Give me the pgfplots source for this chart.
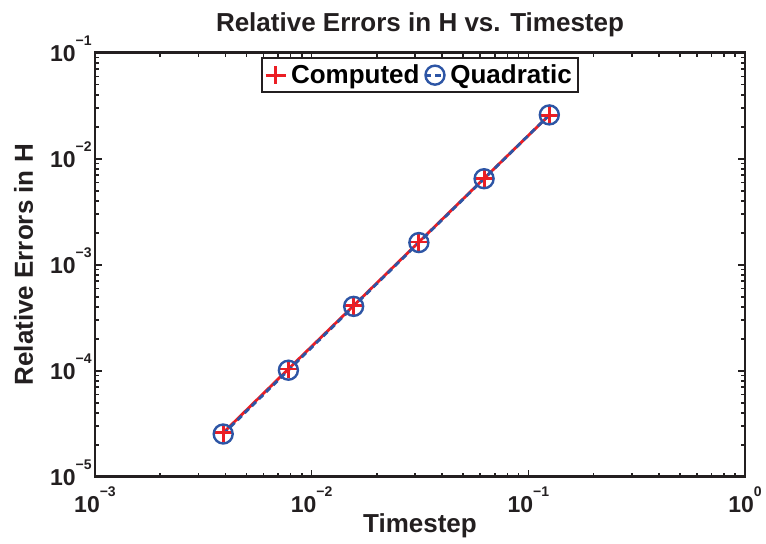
\documentclass[border=0pt]{standalone}
\usepackage{fontspec}
\setmainfont{Liberation Sans}
\usepackage{pgfplots}
\pgfplotsset{compat=1.18}
\definecolor{cred}{RGB}{235,30,36}
\definecolor{cblue}{RGB}{45,85,165}
\definecolor{axgray}{RGB}{35,31,32}
\newcommand{\expten}[1]{\pgfmathparse{int(round(#1/2.302585093))}\edef\myexp{\pgfmathresult}10\raisebox{8pt}{\fontsize{7}{7}\selectfont\ifnum\myexp<0 −\the\numexpr-\myexp\relax\else\myexp\fi}}
\pgfplotstableread{
x y
0.00390625 2.60e-5
0.0078125 1.04e-4
0.015625 4.12e-4
0.03125 1.64e-3
0.0625 6.53e-3
0.125 2.58e-2
}\computed
\pgfplotstableread{
x y
0.00390625 2.533e-5
0.0078125 1.013e-4
0.015625 4.053e-4
0.03125 1.621e-3
0.0625 6.484e-3
0.125 2.594e-2
}\quadratic
\begin{document}
\begin{tikzpicture}
\path[use as bounding box] (-47.5pt,-33.5pt) rectangle (335.5pt,238.4pt);
\begin{axis}[
 at={(0,0)}, anchor=south west,
 scale only axis, width=325pt, height=212pt,
 xmode=log, ymode=log,
 xmin=1e-3, xmax=1, ymin=1e-5, ymax=1e-1,
 xtick={1e-3,1e-2,1e-1,1}, ytick={1e-5,1e-4,1e-3,1e-2,1e-1},
 xticklabel={\expten{\tick}},
 yticklabel={\expten{\tick}},
 tick label style={font=\fontsize{11.5}{13}\selectfont\bfseries, text=axgray},
 xticklabel style={anchor=base, yshift=-18pt},
 yticklabel style={anchor=base east, inner sep=0pt, xshift=-1.5pt, yshift=-4.35pt},
 axis line style={line width=1.4pt, axgray},
 every tick/.style={axgray, line width=0.8pt},
 major tick length=3.5pt, minor tick length=2pt,
 tick align=inside,
 every axis title shift=0pt,
 title={Relative Errors in H vs. Timestep},
 title style={at={(axis description cs:0.5,1.0495)}, anchor=base, yshift=0pt, font=\fontsize{13}{15}\selectfont\bfseries, text=axgray},
 xlabel={Timestep},
 xlabel style={at={(axis description cs:0.5,-0.1321)}, anchor=base, font=\fontsize{13}{15}\selectfont\bfseries, text=axgray},
 ylabel={Relative Errors in H},
 ylabel style={at={(axis description cs:-0.0954,0.5)}, anchor=base, font=\fontsize{13}{15}\selectfont\bfseries, text=axgray},
 legend style={at={(axis description cs:0.5,0.99)}, anchor=north, legend columns=-1, draw=axgray, line width=1.2pt, font=\fontsize{13}{15}\selectfont\bfseries, inner sep=1pt, /tikz/every even column/.append style={column sep=0pt}},
 legend image code/.code={\draw[mark repeat=2,mark phase=2,#1] plot coordinates {(0pt,0pt)(5pt,0pt)(10pt,0pt)};},
]
\addplot[cred, line width=1.4pt, mark=+, mark size=4.5pt, mark options={solid, line width=1.4pt}] table {\computed};
\addplot[cblue, line width=1.4pt, dash pattern=on 3pt off 2pt, mark=o, mark size=4.75pt, mark options={solid, line width=1.2pt}] table {\quadratic};
\legend{Computed,Quadratic}
\end{axis}
\end{tikzpicture}
\end{document}
